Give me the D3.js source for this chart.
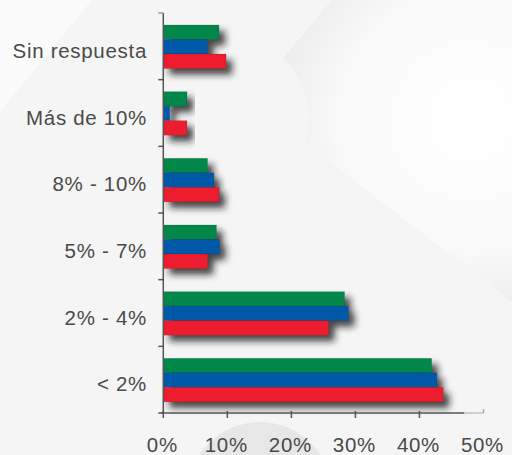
<!DOCTYPE html>
<html><head><meta charset="utf-8">
<script src="https://cdn.jsdelivr.net/npm/d3@7"></script>
<style>html,body{margin:0;padding:0;background:#f5f5f5;}svg{display:block;}
text{font-family:"Liberation Sans", Arimo, Arial, Helvetica, sans-serif;}</style>
</head><body>
<svg id="c" width="512" height="455"></svg>
<script>
const categories = ["Sin respuesta", "Más de 10%", "8% - 10%", "5% - 7%", "2% - 4%", "< 2%"];
const seriesNames = ["Serie A", "Serie B", "Serie C"];
const serieA = [8.7, 3.7, 6.9, 8.3, 28.3, 41.9];
const serieB = [6.9, 1.0, 7.9, 8.8, 28.9, 42.7];
const serieC = [9.8, 3.7, 8.7, 6.9, 25.8, 43.7];
const xTicks = [0, 10, 20, 30, 40, 50];
const colors = ["#00874a", "#0058a8", "#ed1c2e"];

const svg = d3.select("#c");
const W = 512, H = 455;
const defs = svg.append("defs");

// background
const rg = defs.append("radialGradient").attr("id","bgG").attr("gradientUnits","userSpaceOnUse")
  .attr("cx",470).attr("cy",120).attr("r",230);
rg.append("stop").attr("offset","0").attr("stop-color","#ffffff");
rg.append("stop").attr("offset","0.55").attr("stop-color","#fafafa");
rg.append("stop").attr("offset","1").attr("stop-color","#e6e6e6");
svg.append("rect").attr("width",W).attr("height",H).attr("fill","#f5f5f5");
svg.append("path").attr("d","M0,0 L92,0 L0,112 Z").attr("fill","#fbfbfb");
svg.append("path").attr("d","M332,0 L283,58 Q318,95 305,143 L512,302 L512,0 Z").attr("fill","url(#bgG)");
svg.append("circle").attr("cx",260).attr("cy",494).attr("r",72).attr("fill","#e7e7e7");

const f = defs.append("filter").attr("id","sh").attr("x","-20%").attr("y","-30%").attr("width","150%").attr("height","180%");
f.append("feDropShadow").attr("dx",6).attr("dy",6).attr("stdDeviation",3.5).attr("flood-color","#1a1a1a").attr("flood-opacity",0.8);

const x = d3.scaleLinear().domain([0,50]).range([163.3, 483.5]);
const y = d3.scaleBand().domain(categories).range([13, 413]).padding(0);
const yi = d3.scaleBand().domain(seriesNames).range([12, 55.5]).padding(0);
const seriesVals = [serieA, serieB, serieC];

const groups = svg.append("g").selectAll("g").data(categories).join("g")
  .attr("transform", d => `translate(0,${y(d)})`).attr("filter","url(#sh)");
groups.selectAll("rect").data((d,i) => seriesNames.map((s,j) => ({s, v: seriesVals[j][i], j})))
  .join("rect")
  .attr("x", x(0)).attr("y", d => yi(d.s)).attr("width", d => x(d.v) - x(0)).attr("height", yi.bandwidth())
  .attr("fill", d => colors[d.j]).attr("stroke", "rgba(0,0,0,0.18)").attr("stroke-width", 0.6);

// y axis
const ax = svg.append("g");
ax.append("line").attr("x1",x(0)).attr("x2",x(0)).attr("y1",y.range()[0]).attr("y2",y.range()[1])
  .attr("stroke","#555").attr("stroke-width",1.5);
const bounds = categories.map(c => y(c)).concat([y.range()[1]]);
ax.selectAll("line.yt").data(bounds).join("line").attr("class","yt")
  .attr("x1",x(0)-5).attr("x2",x(0)).attr("y1",d=>d).attr("y2",d=>d)
  .attr("stroke",(d,i)=> i===0 ? "#999" : "#555").attr("stroke-width",1.5);
ax.selectAll("text").data(categories).join("text")
  .attr("x", 147).attr("y", d => y(d) + y.bandwidth()/2 + 11.5)
  .attr("text-anchor","end")
  .attr("font-size","20.5px").attr("letter-spacing","0.7px").attr("fill","#4a4a4a").text(d => d);

// x axis
const xa = svg.append("g");
xa.append("line").attr("x1",x(0)-2).attr("x2",x(47)).attr("y1",413).attr("y2",413).attr("stroke","#555").attr("stroke-width",1.5);
xa.append("line").attr("x1",x(47)).attr("x2",x(50)).attr("y1",413).attr("y2",413).attr("stroke","#aaa").attr("stroke-width",1);
xa.selectAll("line.xt").data(xTicks).join("line").attr("class","xt")
  .attr("x1",d=>x(d)).attr("x2",d=>x(d))
  .attr("y1",d=> d===50 ? 409 : 411).attr("y2",d=> d===50 ? 413 : 418)
  .attr("stroke",d=> d===50 ? "#aaa" : "#555").attr("stroke-width",1.5);
xa.selectAll("text").data(xTicks).join("text")
  .attr("x", d => x(d) - 1).attr("y", 452)
  .attr("text-anchor","middle")
  .attr("font-size","20.5px").attr("letter-spacing","0.7px").attr("fill","#4a4a4a").text(d => d + "%");
</script>
</body></html>
